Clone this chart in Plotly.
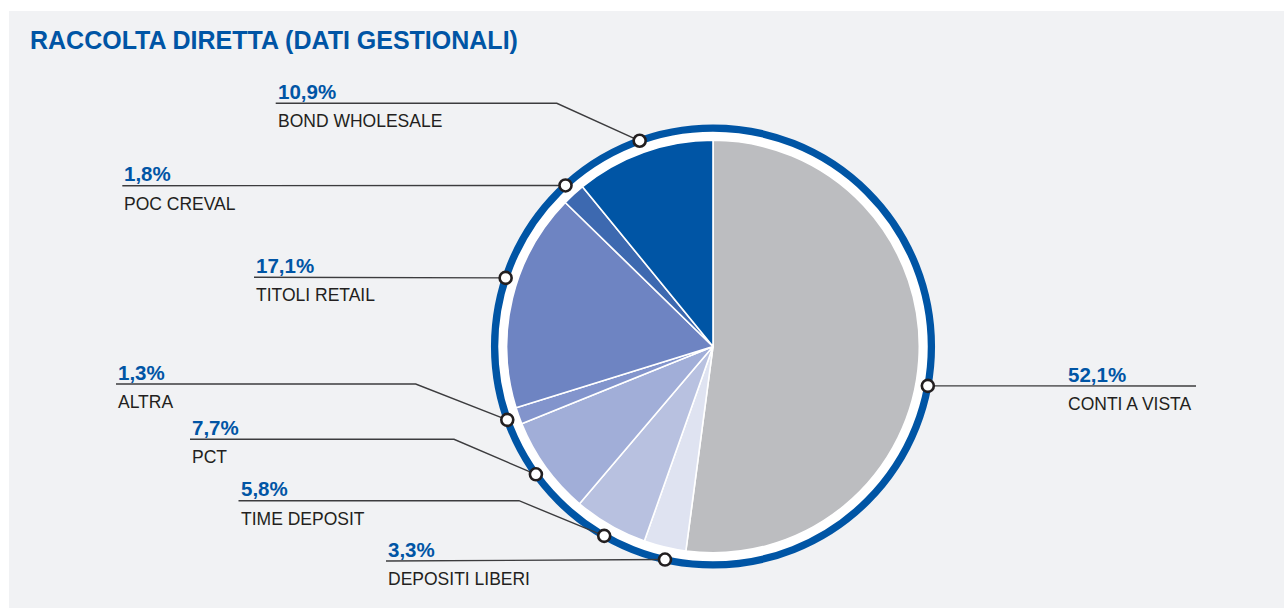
import math
import plotly.graph_objects as go

# ---- data ----
categories = ["CONTI A VISTA", "DEPOSITI LIBERI", "TIME DEPOSIT", "PCT",
              "ALTRA", "TITOLI RETAIL", "POC CREVAL", "BOND WHOLESALE"]
values = [52.1, 3.3, 5.8, 7.7, 1.3, 17.1, 1.8, 10.9]
pct_labels = ["52,1%", "3,3%", "5,8%", "7,7%", "1,3%", "17,1%", "1,8%", "10,9%"]
title_text = "RACCOLTA DIRETTA (DATI GESTIONALI)"

# ---- styling / layout config ----
W, H = 1284, 608
CX, CY = 713, 346.5
R_PIE = 206.3
R_RING = 218.4
colors = ["#bcbdc0", "#dfe3f1", "#b8c1e0", "#a1aed8",
          "#8294cc", "#6e84c2", "#3d69b0", "#0055a5"]
BLUE = "#0055a5"
TXT = "#231f20"
FONT = "Liberation Sans, Arial, sans-serif"

# label layout: text-left x, line y, elbow x (None = straight), anchor angle tweak (deg)
label_layout = {
    "CONTI A VISTA":   dict(tx=1066, ly=386,   ex=None, tweak=6.6, side="right", end=1196),
    "DEPOSITI LIBERI": dict(tx=386,  ly=561,   ex=None, tweak=-0.8, side="left"),
    "TIME DEPOSIT":    dict(tx=238.5, ly=500.7, ex=519, tweak=0, side="left"),
    "PCT":             dict(tx=190,  ly=439.3, ex=454, tweak=0, side="left"),
    "ALTRA":           dict(tx=116,  ly=384,   ex=415.7, tweak=0, side="left"),
    "TITOLI RETAIL":   dict(tx=254,  ly=277.3, ex=None, tweak=4.8, side="left"),
    "POC CREVAL":      dict(tx=122.3, ly=185.7, ex=None, tweak=0, side="left"),
    "BOND WHOLESALE":  dict(tx=275.7, ly=103.3, ex=556.8, tweak=0, side="left"),
}

fig = go.Figure()

# pie
fig.add_trace(go.Pie(
    values=values, labels=categories, sort=False, direction="clockwise",
    rotation=0, textinfo="none", hoverinfo="label+percent",
    marker=dict(colors=colors, line=dict(color="white", width=1.6)),
    domain=dict(x=[(CX - R_PIE) / W, (CX + R_PIE) / W],
                y=[1 - (CY + R_PIE) / H, 1 - (CY - R_PIE) / H]),
    showlegend=False,
))

# anchor points from the data (mid-angle of each slice)
total = sum(values)
cum = 0
dots_x, dots_y = [], []
annotations = []
for cat, v, pl in zip(categories, values, pct_labels):
    lay = label_layout[cat]
    mid = (cum + v / 2) / total * 360 + lay["tweak"]
    cum += v
    a = math.radians(mid)
    dx = CX + R_RING * math.sin(a)
    dy = CY - R_RING * math.cos(a)
    dots_x.append(dx)
    dots_y.append(dy)
    # leader line
    if lay["side"] == "right":
        xs = [dx, lay["end"]]
        ys = [dy, lay["ly"]]
    elif lay["ex"] is None:
        xs = [lay["tx"], dx]
        ys = [lay["ly"], dy]
    else:
        xs = [lay["tx"], lay["ex"], dx]
        ys = [lay["ly"], lay["ly"], dy]
    fig.add_trace(go.Scatter(x=xs, y=ys, mode="lines",
                             line=dict(color="#3c3c3e", width=1.4),
                             hoverinfo="skip", showlegend=False))
    annotations.append(dict(x=lay["tx"], y=lay["ly"] - 12, text="<b>" + pl + "</b>",
                            xanchor="left", yanchor="middle", showarrow=False,
                            font=dict(family=FONT, size=20.5, color=BLUE)))
    annotations.append(dict(x=lay["tx"], y=lay["ly"] + 18, text=cat,
                            xanchor="left", yanchor="middle", showarrow=False,
                            font=dict(family=FONT, size=17.5, color=TXT)))

fig.add_trace(go.Scatter(x=dots_x, y=dots_y, mode="markers",
                         marker=dict(size=12, color="white",
                                     line=dict(color=TXT, width=2.6)),
                         hoverinfo="skip", showlegend=False))

annotations.append(dict(x=28, y=40, text="<b>" + title_text + "</b>",
                        xanchor="left", yanchor="middle", showarrow=False,
                        font=dict(family=FONT, size=25, color=BLUE)))

shapes = [
    dict(type="rect", xref="x", yref="y", x0=9, y0=11, x1=W + 5, y1=H + 5,
         fillcolor="#f1f2f4", line=dict(width=0), layer="below"),
    dict(type="circle", xref="x", yref="y",
         x0=CX - R_RING, x1=CX + R_RING, y0=CY - R_RING, y1=CY + R_RING,
         fillcolor="white", line=dict(color=BLUE, width=7.3), layer="below"),
]

fig.update_layout(
    width=W, height=H, margin=dict(l=0, r=0, t=0, b=0),
    paper_bgcolor="white", plot_bgcolor="rgba(0,0,0,0)",
    xaxis=dict(range=[0, W], visible=False, fixedrange=True),
    yaxis=dict(range=[H, 0], visible=False, fixedrange=True),
    shapes=shapes, annotations=annotations,
)

fig.write_html("out.html", config={"displayModeBar": False},
               post_script="document.body.style.margin='0';document.body.style.padding='0';document.body.style.overflow='hidden';")
